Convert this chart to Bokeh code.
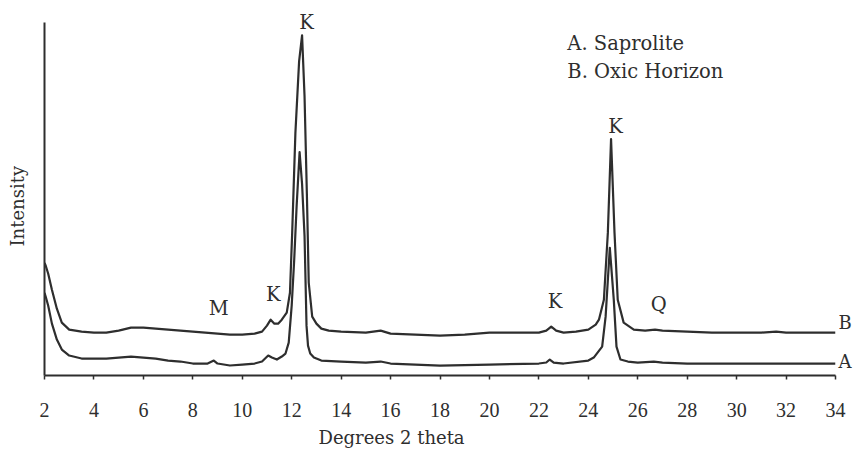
import numpy as np
from bokeh.plotting import figure
from bokeh.models import Range1d, FixedTicker, Label, LinearAxis, Title
from bokeh.embed import file_html
from bokeh.resources import INLINE

# X-ray diffraction traces (relative intensity vs. degrees 2-theta)
two_theta_A = [2.0, 2.05, 2.15, 2.3, 2.5, 2.7, 3.0, 3.5, 4.0, 4.5, 5.0, 5.5, 6.0, 6.5, 7.0,
               7.5, 8.0, 8.6, 8.85, 9.0, 9.5, 10.0, 10.5, 10.8, 11.05, 11.2, 11.4, 11.6,
               11.75, 11.88, 12.0, 12.1, 12.2, 12.32, 12.42, 12.52, 12.6, 12.66, 12.75,
               12.9, 13.2, 14.0, 15.0, 15.6, 16.0, 17.0, 18.0, 20.0, 22.0, 22.3, 22.44,
               22.6, 23.0, 24.0, 24.22, 24.56, 24.7, 24.87, 25.03, 25.14, 25.3, 25.6,
               26.0, 26.65, 27.0, 28.0, 30.0, 32.0, 34.0]
intensity_A = [83, 79, 70, 52, 36, 26, 20, 17, 17, 17, 18, 19, 18, 17, 15,
               14, 12, 12, 15, 12, 10, 11, 12, 14, 20, 18, 16, 19,
               22, 33, 70, 115, 170, 224, 192, 140, 50, 30, 22,
               18, 15, 14, 13, 14, 12, 11, 10, 11, 12, 13, 16,
               13, 12, 15, 18, 29, 59, 128, 76, 29, 16, 14,
               13, 14, 13, 12, 12, 12, 12]

two_theta_B = [2.0, 2.05, 2.15, 2.3, 2.5, 2.7, 3.0, 3.5, 4.0, 4.5, 5.0, 5.5, 6.0, 6.5, 7.0,
               7.5, 8.0, 8.5, 9.0, 9.5, 10.0, 10.5, 10.8, 11.0, 11.15, 11.3, 11.45, 11.6,
               11.8, 11.93, 12.02, 12.15, 12.3, 12.42, 12.52, 12.62, 12.69, 12.83, 13.0,
               13.2, 13.5, 14.0, 15.0, 15.6, 16.0, 17.0, 18.0, 19.0, 20.0, 21.0, 22.0,
               22.3, 22.5, 22.7, 23.0, 23.5, 24.0, 24.3, 24.43, 24.63, 24.79, 24.92,
               25.06, 25.19, 25.43, 25.84, 26.3, 26.7, 27.0, 28.0, 29.0, 30.0, 31.0,
               31.6, 32.0, 33.0, 34.0]
intensity_B = [113, 110, 102, 86, 67, 53, 46, 44, 43, 43, 45, 48, 48, 47, 46,
               45, 44, 43, 42, 41, 41, 42, 44, 50, 56, 52, 52, 56,
               63, 83, 143, 243, 315, 341, 280, 176, 93, 59, 52,
               47, 45, 44, 43, 45, 42, 41, 40, 41, 43, 43, 43,
               45, 49, 45, 43, 44, 46, 51, 56, 76, 143, 237,
               143, 76, 53, 46, 45, 46, 45, 44, 43, 43, 43,
               44, 43, 43, 43]

series_codes = ["A", "B"]
series_names = ["Saprolite", "Oxic Horizon"]

# mineral reflections: M = mica, K = kaolinite, Q = quartz
peak_minerals = ["M", "K", "K", "K", "K", "Q"]
peak_positions = [8.85, 11.05, 12.4, 22.45, 24.9, 26.65]

x_ticks = [2, 4, 6, 8, 10, 12, 14, 16, 18, 20, 22, 24, 26, 28, 30, 32, 34]

INK = "#2e2e2e"
SERIF = "DejaVu Serif"
TXT = "19.5px"
AXIS_TOP = 354   # height of the drawn intensity axis line

p = figure(width=858, height=452, output_backend="svg", toolbar_location=None,
           x_range=Range1d(2, 34), y_range=Range1d(0, 374),
           min_border_left=44, min_border_right=23, min_border_top=2,
           min_border_bottom=76)
p.background_fill_color = "white"
p.border_fill_color = "white"
p.outline_line_color = None
p.grid.visible = False

# x axis: short outward ticks every 2 degrees
p.xaxis.ticker = FixedTicker(ticks=x_ticks)
p.xaxis.axis_line_width = 2
p.xaxis.axis_line_color = INK
p.xaxis.major_tick_line_color = INK
p.xaxis.major_tick_line_width = 1.5
p.xaxis.major_tick_in = 0
p.xaxis.major_tick_out = 4
p.xaxis.minor_tick_line_color = None
p.xaxis.major_label_text_font = "Liberation Serif"
p.xaxis.major_label_text_font_size = "20px"
p.xaxis.major_label_text_color = INK
p.xaxis.major_label_standoff = 23

# y axis: bare line only; a blank label leaves a gap before the title
p.yaxis.bounds = (0, AXIS_TOP)
p.yaxis.ticker = FixedTicker(ticks=[])
p.yaxis.axis_line_width = 2
p.yaxis.axis_line_color = INK
p.yaxis.major_tick_in = 0
p.yaxis.major_tick_out = 0
p.yaxis.major_label_standoff = 0
p.yaxis.minor_tick_line_color = None
p.yaxis.major_tick_line_color = None
p.yaxis.axis_label = " "
p.yaxis.axis_label_text_font_size = "2px"
p.yaxis.axis_label_standoff = 8

traces = {"A": (two_theta_A, intensity_A), "B": (two_theta_B, intensity_B)}
for code in series_codes:
    xs, ys = traces[code]
    p.line(xs, ys, line_width=2.2, line_color=INK, line_join="round")

# curve tags at the right-hand end of each trace
tag_levels = {"A": traces["A"][1][-1] + 2, "B": traces["B"][1][-1] + 10}
tags = LinearAxis(ticker=FixedTicker(ticks=[tag_levels[c] for c in series_codes]),
                  major_label_overrides={tag_levels[c]: c for c in series_codes},
                  axis_line_color=None, major_tick_line_color=None,
                  minor_tick_line_color=None, major_tick_in=0, major_tick_out=0,
                  major_label_standoff=3, major_label_text_font=SERIF,
                  major_label_text_font_size="18px", major_label_text_color=INK)
p.add_layout(tags, "right")

# mineral labels above the Oxic Horizon trace
bx = np.array(traces["B"][0])
by = np.array(traces["B"][1])
for mineral, pos in zip(peak_minerals, peak_positions):
    local = by[np.abs(bx - pos) <= 0.3].max()
    gap = 6 if local > 150 else 18
    p.add_layout(Label(x=pos, y=local + gap, x_offset=5, y_offset=7, text=mineral,
                       text_font=SERIF, text_font_size=TXT, text_color=INK,
                       text_align="center", text_baseline="alphabetic"))

# key
for i, (code, name) in enumerate(zip(series_codes, series_names)):
    p.add_layout(Label(x=23.15, y=326 - 28 * i, y_offset=7, text=f"{code}.  {name}",
                       text_font=SERIF, text_font_size=TXT, text_color=INK,
                       text_baseline="alphabetic"))

# axis titles
p.add_layout(Title(text="Degrees 2 theta", align="left", offset=274, text_font=SERIF,
                   text_font_size="18px", text_font_style="normal", text_color=INK),
             "below")
p.add_layout(Title(text="Intensity", align="left", offset=129, standoff=8,
                   text_font=SERIF, text_font_size="18px", text_font_style="normal",
                   text_color=INK),
             "left")

open("out.html", "w").write(file_html(p, INLINE))
